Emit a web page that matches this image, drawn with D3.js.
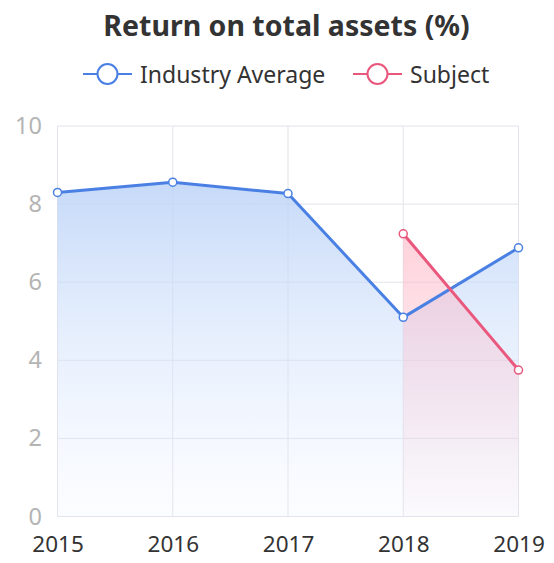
<!DOCTYPE html>
<html>
<head>
<meta charset="utf-8">
<script src="https://cdn.jsdelivr.net/npm/d3@7"></script>
<style>
html,body{margin:0;padding:0;background:#fff;}
svg{display:block;font-family:"Noto Sans",sans-serif;}
</style>
</head>
<body>
<svg id="chart" width="554" height="563"></svg>
<script>
const years = ["2015","2016","2017","2018","2019"];
const industryAverage = [8.3, 8.56, 8.27, 5.1, 6.88];
const subject = [null, null, null, 7.24, 3.75];
const yTicks = [0, 2, 4, 6, 8, 10];
const seriesNames = ["Industry Average", "Subject"];
const seriesColors = ["#4a80e4", "#e9577d"];

const svg = d3.select("#chart");
const W = 554, H = 563;
const m = {left: 57.5, right: 35.5, top: 126, bottom: 46.5};

const x = d3.scalePoint().domain(years).range([m.left, W - m.right]);
const y = d3.scaleLinear().domain([0, 10]).range([H - m.bottom, m.top]);

const defs = svg.append("defs");
const g1 = defs.append("linearGradient").attr("id","gBlue")
  .attr("gradientUnits","userSpaceOnUse").attr("x1",0).attr("x2",0)
  .attr("y1", y(8.56)).attr("y2", y(0));
g1.append("stop").attr("offset","0%").attr("stop-color","#bcd3f7").attr("stop-opacity",0.85);
g1.append("stop").attr("offset","100%").attr("stop-color","#e6efff").attr("stop-opacity",0.15);
const g2 = defs.append("linearGradient").attr("id","gPink")
  .attr("gradientUnits","userSpaceOnUse").attr("x1",0).attr("x2",0)
  .attr("y1", y(7.24)).attr("y2", y(0));
g2.append("stop").attr("offset","0%").attr("stop-color","#ffb3c2").attr("stop-opacity",0.6);
g2.append("stop").attr("offset","100%").attr("stop-color","#f5c5d6").attr("stop-opacity",0.05);

// Title
svg.append("text").attr("x", 286.5).attr("y", 36)
  .attr("text-anchor","middle").attr("font-weight","bold").attr("font-size", 28.5)
  .attr("fill","#333").text("Return on total assets (%)");

// Legend
const legendItems = [
  {name: seriesNames[0], color: seriesColors[0], x: 83},
  {name: seriesNames[1], color: seriesColors[1], x: 353}
];
const lg = svg.append("g");
legendItems.forEach(d => {
  const gi = lg.append("g").attr("transform", `translate(${d.x},74)`);
  gi.append("line").attr("x1",0).attr("x2",49).attr("y1",0).attr("y2",0)
    .attr("stroke", d.color).attr("stroke-width",2);
  gi.append("circle").attr("cx",24.5).attr("cy",0).attr("r",10)
    .attr("fill","#fff").attr("stroke", d.color).attr("stroke-width",2);
  gi.append("text").attr("x",57).attr("y",8.5).attr("font-size",23)
    .attr("fill","#333").text(d.name);
});

// Grid
const grid = svg.append("g");
grid.selectAll("line.h").data(yTicks).enter().append("line")
  .attr("x1", m.left).attr("x2", W - m.right)
  .attr("y1", d => y(d)).attr("y2", d => y(d))
  .attr("stroke","#e3e3ea").attr("stroke-width",1);
grid.selectAll("line.v").data(years).enter().append("line")
  .attr("x1", d => x(d)).attr("x2", d => x(d))
  .attr("y1", y(0)).attr("y2", y(10))
  .attr("stroke","#e3e3ea").attr("stroke-width",1);

// Areas
const indData = years.map((yr,i)=>({yr, v: industryAverage[i]}));
const subData = years.map((yr,i)=>({yr, v: subject[i]})).filter(d=>d.v!==null);

const area = d3.area().x(d=>x(d.yr)).y0(y(0)).y1(d=>y(d.v));
const line = d3.line().x(d=>x(d.yr)).y(d=>y(d.v));

svg.append("path").datum(indData).attr("d", area).attr("fill","url(#gBlue)");
svg.append("path").datum(subData).attr("d", area).attr("fill","url(#gPink)");

svg.append("path").datum(indData).attr("d", line).attr("fill","none")
  .attr("stroke", seriesColors[0]).attr("stroke-width",3).attr("stroke-linejoin","round");
svg.append("path").datum(subData).attr("d", line).attr("fill","none")
  .attr("stroke", seriesColors[1]).attr("stroke-width",3).attr("stroke-linejoin","round");

svg.selectAll("circle.ind").data(indData).enter().append("circle")
  .attr("cx", d=>x(d.yr)).attr("cy", d=>y(d.v)).attr("r",4)
  .attr("fill","#fff").attr("stroke", seriesColors[0]).attr("stroke-width",1.5);
svg.selectAll("circle.sub").data(subData).enter().append("circle")
  .attr("cx", d=>x(d.yr)).attr("cy", d=>y(d.v)).attr("r",4)
  .attr("fill","#fff").attr("stroke", seriesColors[1]).attr("stroke-width",1.5);

// Axes
const yAxis = d3.axisLeft(y).tickValues(yTicks).tickSize(0).tickPadding(15.5);
svg.append("g").attr("transform",`translate(${m.left},0)`).call(yAxis)
  .call(g=>g.select(".domain").remove())
  .selectAll("text").attr("font-size",23.5).attr("fill","#b4b4b4")
  .attr("font-family","Noto Sans, sans-serif");

const xAxis = d3.axisBottom(x).tickSize(0).tickPadding(20);
svg.append("g").attr("transform",`translate(0,${y(0)})`).call(xAxis)
  .call(g=>g.select(".domain").remove())
  .selectAll("text").attr("font-size",22.5).attr("fill","#333")
  .attr("font-family","Noto Sans, sans-serif");
</script>
</body>
</html>
